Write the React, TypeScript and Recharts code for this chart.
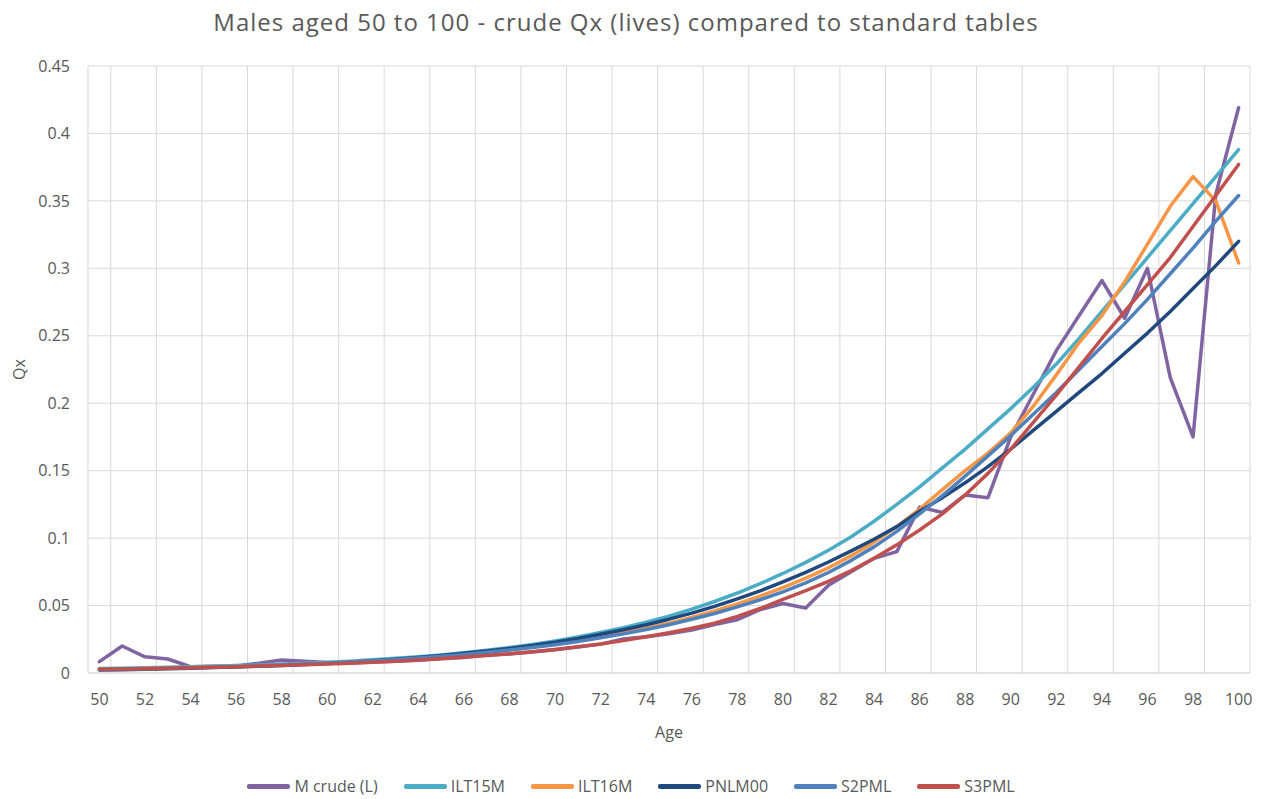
import React from 'react';
import { LineChart, Line, XAxis, YAxis, CartesianGrid, Legend, Label } from 'recharts';

const ages = [50, 51, 52, 53, 54, 55, 56, 57, 58, 59, 60, 61, 62, 63, 64, 65, 66, 67, 68, 69, 70, 71, 72, 73, 74, 75, 76, 77, 78, 79, 80, 81, 82, 83, 84, 85, 86, 87, 88, 89, 90, 91, 92, 93, 94, 95, 96, 97, 98, 99, 100];

const mCrude = [0.0084, 0.020, 0.012, 0.0104, 0.0047, 0.0050, 0.0052, 0.0072, 0.0096, 0.0088, 0.0078, 0.0074, 0.0082, 0.0088, 0.0095, 0.0106, 0.0114, 0.0133, 0.0140, 0.0155, 0.0172, 0.0193, 0.0214, 0.0252, 0.0268, 0.0290, 0.0318, 0.0360, 0.0395, 0.0470, 0.0515, 0.0482, 0.0650, 0.0750, 0.0850, 0.0900, 0.1230, 0.1190, 0.1320, 0.1300, 0.1750, 0.2070, 0.2390, 0.2650, 0.2910, 0.2630, 0.3000, 0.2190, 0.1750, 0.3550, 0.4190];

const ilt15m = [0.0033, 0.0036, 0.0039, 0.0042, 0.0046, 0.0050, 0.0055, 0.0060, 0.0066, 0.0073, 0.0080, 0.0088, 0.0098, 0.0109, 0.0120, 0.0134, 0.0150, 0.0168, 0.0189, 0.0212, 0.0238, 0.0267, 0.0300, 0.0336, 0.0377, 0.0422, 0.0473, 0.0530, 0.0593, 0.0662, 0.0738, 0.0820, 0.0910, 0.1010, 0.1125, 0.1250, 0.1380, 0.1520, 0.1660, 0.1810, 0.1960, 0.2120, 0.2290, 0.2480, 0.2680, 0.2880, 0.3080, 0.3280, 0.3480, 0.3680, 0.3880];

const ilt16m = [0.0028, 0.0030, 0.0033, 0.0036, 0.0040, 0.0044, 0.0049, 0.0054, 0.0060, 0.0066, 0.0073, 0.0081, 0.0090, 0.0100, 0.0112, 0.0125, 0.0140, 0.0155, 0.0172, 0.0192, 0.0215, 0.0240, 0.0268, 0.0299, 0.0333, 0.0370, 0.0412, 0.0460, 0.0512, 0.0570, 0.0633, 0.0703, 0.0780, 0.0870, 0.0970, 0.1085, 0.1215, 0.1360, 0.1500, 0.1630, 0.1780, 0.1980, 0.2210, 0.2450, 0.2650, 0.2900, 0.3180, 0.3460, 0.3680, 0.3500, 0.3040];

const pnlm00 = [0.0022, 0.0025, 0.0028, 0.0031, 0.0035, 0.0040, 0.0044, 0.0050, 0.0056, 0.0063, 0.0071, 0.0080, 0.0090, 0.0102, 0.0115, 0.0130, 0.0146, 0.0163, 0.0182, 0.0204, 0.0228, 0.0256, 0.0287, 0.0321, 0.0358, 0.0399, 0.0444, 0.0494, 0.0549, 0.0609, 0.0675, 0.0746, 0.0823, 0.0905, 0.0992, 0.1085, 0.1200, 0.1300, 0.1410, 0.1530, 0.1660, 0.1800, 0.1940, 0.2080, 0.2220, 0.2370, 0.2520, 0.2680, 0.2850, 0.3020, 0.3200];

const s2pml = [0.0026, 0.0029, 0.0032, 0.0035, 0.0039, 0.0043, 0.0048, 0.0053, 0.0059, 0.0066, 0.0073, 0.0081, 0.0090, 0.0100, 0.0111, 0.0124, 0.0138, 0.0153, 0.0170, 0.0189, 0.0210, 0.0234, 0.0261, 0.0290, 0.0322, 0.0358, 0.0398, 0.0441, 0.0490, 0.0543, 0.0602, 0.0668, 0.0745, 0.0835, 0.0935, 0.1050, 0.1180, 0.1315, 0.1460, 0.1610, 0.1760, 0.1920, 0.2080, 0.2250, 0.2420, 0.2590, 0.2770, 0.2960, 0.3150, 0.3350, 0.3540];

const s3pml = [0.0028, 0.0030, 0.0032, 0.0035, 0.0039, 0.0043, 0.0047, 0.0051, 0.0056, 0.0061, 0.0067, 0.0073, 0.0080, 0.0088, 0.0097, 0.0107, 0.0118, 0.0130, 0.0143, 0.0158, 0.0175, 0.0195, 0.0215, 0.0240, 0.0268, 0.0298, 0.0332, 0.0370, 0.0420, 0.0478, 0.0545, 0.0610, 0.0680, 0.0760, 0.0850, 0.0950, 0.1060, 0.1180, 0.1320, 0.1480, 0.1660, 0.1860, 0.2060, 0.2270, 0.2480, 0.2680, 0.2880, 0.3080, 0.3310, 0.3540, 0.3770];

const xTicks = [50, 52, 54, 56, 58, 60, 62, 64, 66, 68, 70, 72, 74, 76, 78, 80, 82, 84, 86, 88, 90, 92, 94, 96, 98, 100];
const yTicks = [0, 0.05, 0.1, 0.15, 0.2, 0.25, 0.3, 0.35, 0.4, 0.45];

const seriesDefs = [
  { key: 'mCrude', name: 'M crude (L)', color: '#8064A2', values: mCrude },
  { key: 'ilt15m', name: 'ILT15M', color: '#4BACC6', values: ilt15m },
  { key: 'ilt16m', name: 'ILT16M', color: '#F79646', values: ilt16m },
  { key: 'pnlm00', name: 'PNLM00', color: '#1F497D', values: pnlm00 },
  { key: 's2pml', name: 'S2PML', color: '#4F81BD', values: s2pml },
  { key: 's3pml', name: 'S3PML', color: '#C0504D', values: s3pml },
];

const data = ages.map((age, i) => {
  const row: Record<string, number> = { age };
  seriesDefs.forEach((s) => {
    row[s.key] = s.values[i];
  });
  return row;
});

// category boundaries (Excel draws gridlines between categories)
const gridTicks = [...ages.map((a) => a - 0.5), ages[ages.length - 1] + 0.5];
const xDomain: [number, number] = [ages[0] - 0.5, ages[ages.length - 1] + 0.5];

const FONT = "'Open Sans', sans-serif";
const TEXT = '#595959';
const GRID = '#D9D9D9';

const renderLegend = () => (
  <div
    style={{
      display: 'flex',
      justifyContent: 'center',
      alignItems: 'center',
      gap: 26,
      paddingRight: 14,
      fontFamily: FONT,
    }}
  >
    {seriesDefs.map((s) => (
      <div key={s.key} style={{ display: 'flex', alignItems: 'center' }}>
        <span
          style={{
            display: 'inline-block',
            width: 43,
            height: 5,
            background: s.color,
            borderRadius: 2,
            marginRight: 4,
          }}
        />
        <span style={{ fontSize: 16, color: TEXT, lineHeight: '20px' }}>{s.name}</span>
      </div>
    ))}
  </div>
);

export default function App() {
  return (
    <div style={{ position: 'relative', width: 1260, height: 791, fontFamily: FONT, background: '#fff' }}>
      <div
        style={{
          position: 'absolute',
          top: 0,
          left: 0,
          width: 1236,
          textAlign: 'center',
          fontSize: 24,
          letterSpacing: 1,
          lineHeight: '28px',
          color: TEXT,
          zIndex: 1,
        }}
      >
        Males aged 50 to 100 - crude Qx (lives) compared to standard tables
      </div>
      <LineChart width={1260} height={791} data={data} margin={{ top: 58, right: 18, left: 0, bottom: 56 }}>
        <XAxis
          xAxisId="g"
          type="number"
          dataKey="age"
          domain={xDomain}
          ticks={gridTicks}
          height={0}
          hide
        />
        <CartesianGrid xAxisId="g" yAxisId="y" stroke={GRID} strokeWidth={1} />
        <XAxis
          xAxisId="x"
          type="number"
          dataKey="age"
          domain={xDomain}
          ticks={xTicks}
          interval={0}
          height={70}
          tickLine={false}
          tickSize={0}
          tickMargin={21}
          axisLine={{ stroke: GRID }}
          tick={{ fill: TEXT, fontSize: 16 }}
        >
          <Label
            content={(props: any) => {
              const vb = props.viewBox || {};
              return (
                <text
                  x={vb.x + vb.width / 2}
                  y={vb.y + 59}
                  textAnchor="middle"
                  dominantBaseline="central"
                  fill={TEXT}
                  fontSize={16}
                >
                  Age
                </text>
              );
            }}
          />
        </XAxis>
        <YAxis
          yAxisId="y"
          domain={[0, 0.45]}
          ticks={yTicks}
          interval={0}
          width={80}
          tickLine={false}
          axisLine={false}
          tickSize={0}
          tickMargin={18}
          tick={{ fill: TEXT, fontSize: 16 }}
          tickFormatter={(v: number) => String(v)}
        >
          <Label
            content={(props: any) => {
              const vb = props.viewBox || {};
              const cx = vb.x + 11;
              const cy = vb.y + vb.height / 2;
              return (
                <text
                  x={cx}
                  y={cy}
                  textAnchor="middle"
                  dominantBaseline="central"
                  fill={TEXT}
                  fontSize={16}
                  transform={`rotate(-90 ${cx} ${cy})`}
                >
                  Qx
                </text>
              );
            }}
          />
        </YAxis>
        <Legend
          layout="horizontal"
          verticalAlign="middle"
          align="center"
          content={renderLegend}
          wrapperStyle={{ top: 768, left: 0, width: 1260, height: 20 }}
        />
        {seriesDefs.map((s) => (
          <Line
            key={s.key}
            xAxisId="x"
            yAxisId="y"
            type="linear"
            dataKey={s.key}
            name={s.name}
            stroke={s.color}
            strokeWidth={3.5}
            strokeLinejoin="round"
            strokeLinecap="round"
            dot={false}
            activeDot={false}
            isAnimationActive={false}
          />
        ))}
      </LineChart>
    </div>
  );
}
